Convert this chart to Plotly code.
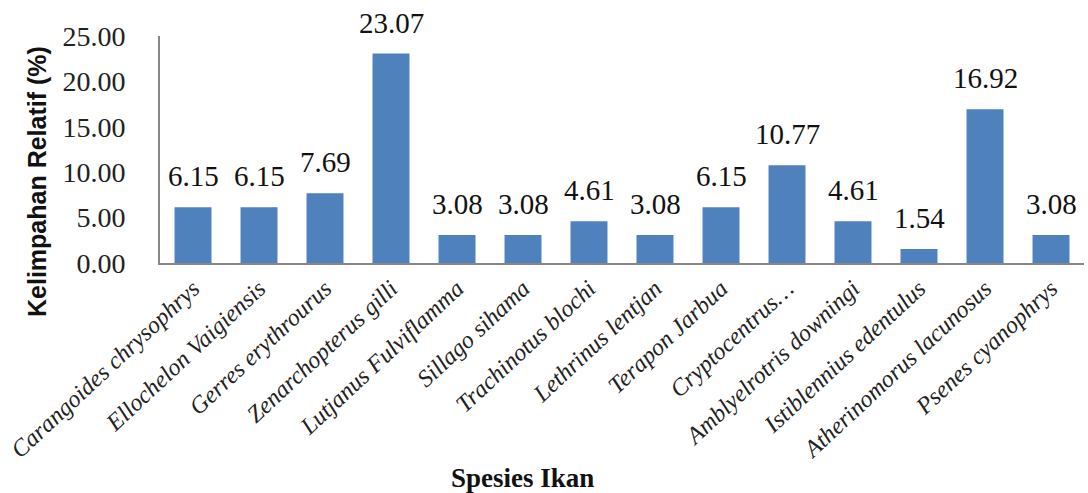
import plotly.graph_objects as go

species = ["Carangoides chrysophrys", "Ellochelon Vaigiensis", "Gerres erythrourus",
           "Zenarchopterus gilli", "Lutjanus Fulviflamma", "Sillago sihama",
           "Trachinotus blochi", "Lethrinus lentjan", "Terapon Jarbua",
           "Cryptocentrus…", "Amblyelrotris downingi", "Istiblennius edentulus",
           "Atherinomorus lacunosus", "Psenes cyanophrys"]
values = [6.15, 6.15, 7.69, 23.07, 3.08, 3.08, 4.61, 3.08, 6.15, 10.77, 4.61, 1.54, 16.92, 3.08]
y_ticks = [0, 5, 10, 15, 20, 25]
y_ticktext = ["0.00", "5.00", "10.00", "15.00", "20.00", "25.00"]

fig = go.Figure()
fig.add_trace(go.Bar(
    x=species, y=values,
    marker=dict(color="#4F81BD", line=dict(color="#4F81BD", width=0)),
    cliponaxis=False,
))
for s, v in zip(species, values):
    fig.add_annotation(
        x=s, y=v, text=f"{v:.2f}", showarrow=False,
        xanchor="center", yanchor="bottom", yshift=13,
        font=dict(family="Liberation Serif", size=29, color="#111111"),
    )

fig.update_layout(
    width=1088, height=493,
    margin=dict(l=160, r=4, t=36, b=230, autoexpand=False),
    paper_bgcolor="white", plot_bgcolor="white",
    bargap=0.44,
    showlegend=False,
)
fig.update_xaxes(
    tickmode="array", tickvals=species,
    ticktext=[f"<i>{s}</i>" for s in species],
    tickangle=-43,
    tickfont=dict(family="Liberation Serif", size=24, color="#222222"),
    showline=True, linecolor="#888888", linewidth=2,
    ticks="", showgrid=False, automargin=False,
)
fig.update_yaxes(
    range=[0, 25],
    tickmode="array", tickvals=y_ticks, ticktext=y_ticktext,
    tickfont=dict(family="Liberation Serif", size=28, color="#222222"),
    showline=True, linecolor="#888888", linewidth=2,
    ticks="", showgrid=False, zeroline=False, automargin=False,
    ticklabelstandoff=27,
)
fig.add_annotation(
    text="<b>Spesies Ikan</b>", xref="paper", yref="paper",
    x=(522 - 160) / 924, y=-(478 - 263) / 227,
    xanchor="center", yanchor="middle", showarrow=False,
    font=dict(family="Liberation Serif", size=27, color="#111111"),
)
fig.add_annotation(
    text="<b>Kelimpahan Relatif (%)</b>", xref="paper", yref="paper",
    x=-(160 - 37) / 924, y=(263 - 182) / 227,
    xanchor="center", yanchor="middle", showarrow=False, textangle=-90,
    font=dict(family="Liberation Sans", size=25, color="#111111"),
)
fig.write_html("out.html", config={"displayModeBar": False},
               post_script="document.body.style.margin='0';")
